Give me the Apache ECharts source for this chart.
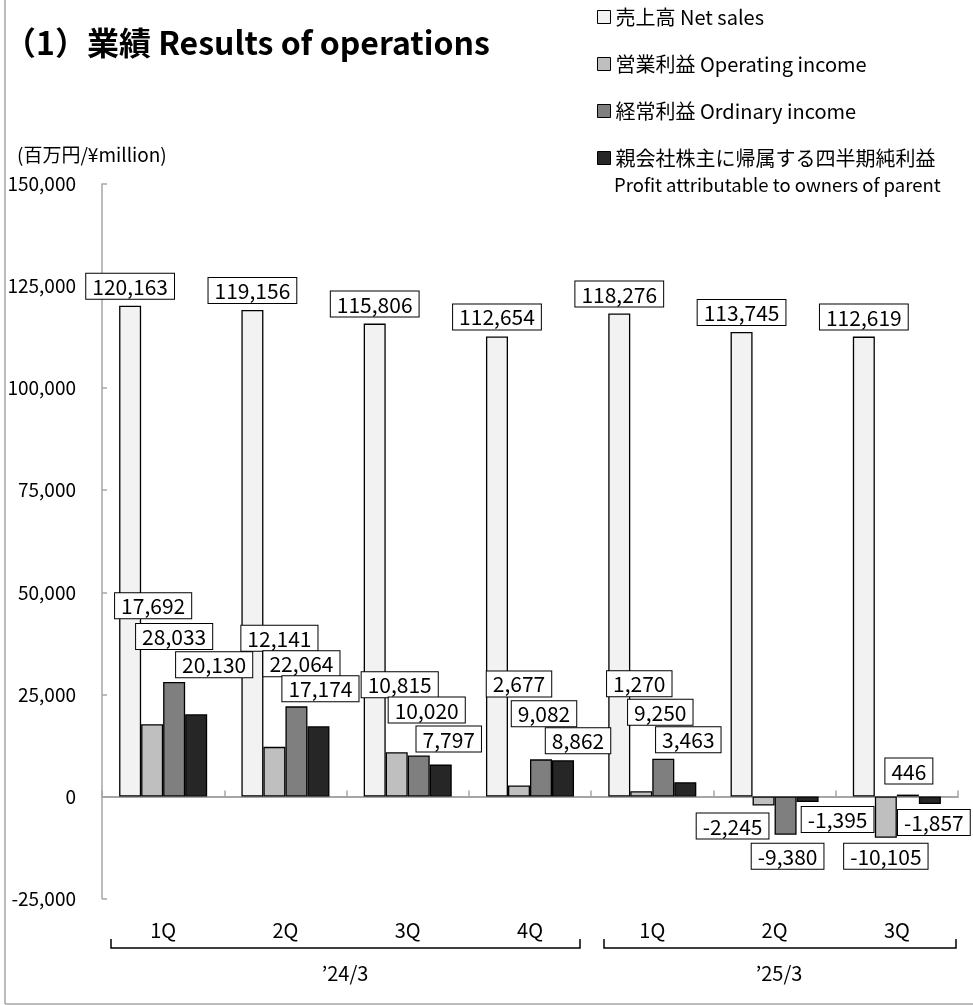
<!DOCTYPE html>
<html>
<head>
<meta charset="utf-8">
<script src="https://cdn.jsdelivr.net/npm/echarts@6/dist/echarts.min.js"></script>
<style>
  html, body { margin: 0; padding: 0; background: #fff; }
  #chart { width: 973px; height: 1005px; }
</style>
</head>
<body>
<div id="chart"></div>
<script>
// 四半期 / quarters
const quarters = ['1Q', '2Q', '3Q', '4Q', '1Q', '2Q', '3Q'];
const fiscalYears = ['\u201924/3', '\u201925/3'];
const seriesNames = ['売上高 Net sales', '営業利益 Operating income', '経常利益 Ordinary income', '親会社株主に帰属する四半期純利益'];

const netSales = [120163, 119156, 115806, 112654, 118276, 113745, 112619];
const operatingIncome = [17692, 12141, 10815, 2677, 1270, -2245, -10105];
const ordinaryIncome = [28033, 22064, 10020, 9082, 9250, -9380, 446];
const profitParent = [20130, 17174, 7797, 8862, 3463, -1395, -1857];

// label shifts [dx, dy] (labels were placed by hand in the original)
const opLabelShift = [[1, -101], [5, -91], [3, -50], [0, -84], [-2, -90], [-31, 3], [0, 1]];
const ordLabelShift = [[0, -28], [5, -25], [8, -28], [3, -28], [-3, -29], [2, 4], [1, -6]];
const netLabelShift = [[18, -32], [2, -20], [8, -8], [15, -2], [3, -25], [30, 0], [4, 1]];

const FONT = "'Noto Sans CJK JP', 'Noto Sans', sans-serif";
const colors = ['#f2f2f2', '#bfbfbf', '#7f7f7f', '#262626'];
const axisGray = '#a6a6a6';

const labelBox = {
  show: true,
  fontFamily: FONT,
  fontSize: 21,
  lineHeight: 20,
  color: '#000',
  backgroundColor: '#fff',
  borderColor: '#000',
  borderWidth: 1,
  padding: [3, 6, 2, 6],
  formatter: p => p.value.toLocaleString('en-US')
};

function withLabels(values, shifts) {
  return values.map((v, i) => ({
    value: v,
    label: { position: v >= 0 ? 'top' : 'bottom', distance: 5, offset: shifts[i] }
  }));
}

function barSeries(name, data, idx, label) {
  return {
    name: name,
    type: 'bar',
    xAxisIndex: 0,
    data: data,
    barGap: '0%',
    barCategoryGap: '28%',
    itemStyle: { color: colors[idx], borderColor: '#000', borderWidth: 1.3 },
    label: Object.assign({}, labelBox, label || {}),
    emphasis: { disabled: true }
  };
}

const chart = echarts.init(document.getElementById('chart'));

chart.setOption({
  animation: false,
  textStyle: { fontFamily: FONT },
  grid: { left: 102, right: 15, top: 184, bottom: 106.5, containLabel: false },
  legend: {
    orient: 'vertical',
    left: 597,
    top: 5,
    padding: 0,
    itemGap: 23,
    itemWidth: 13,
    itemHeight: 13,
    icon: 'rect',
    selectedMode: false,
    itemStyle: { borderColor: '#000', borderWidth: 1 },
    textStyle: { fontFamily: FONT, fontSize: 20, lineHeight: 24, color: '#000' },
    data: seriesNames
  },
  xAxis: [
    {
      type: 'category',
      data: quarters,
      position: 'bottom',
      axisLine: { onZero: true, lineStyle: { color: axisGray, width: 2 } },
      axisTick: { show: true, inside: true, length: 6, lineStyle: { color: axisGray, width: 1.5 } },
      axisLabel: { show: false }
    },
    {
      type: 'category',
      data: quarters,
      position: 'bottom',
      axisLine: { show: false, onZero: false },
      axisTick: { show: false },
      axisLabel: { show: true, margin: 22, fontSize: 20, color: '#000', fontFamily: FONT }
    }
  ],
  yAxis: {
    type: 'value',
    min: -25000,
    max: 150000,
    interval: 25000,
    splitLine: { show: false },
    axisLine: { show: true, lineStyle: { color: axisGray, width: 1.5 } },
    axisTick: { show: true, inside: true, length: 5, lineStyle: { color: axisGray, width: 1.5 } },
    axisLabel: {
      margin: 26,
      fontSize: 19,
      color: '#000',
      fontFamily: FONT,
      formatter: v => v.toLocaleString('en-US')
    }
  },
  series: [
    barSeries(seriesNames[0], netSales, 0, { position: 'top', distance: 7 }),
    barSeries(seriesNames[1], withLabels(operatingIncome, opLabelShift), 1),
    barSeries(seriesNames[2], withLabels(ordinaryIncome, ordLabelShift), 2),
    barSeries(seriesNames[3], withLabels(profitParent, netLabelShift), 3)
  ],
  graphic: [
    // frame
    { type: 'line', shape: { x1: 5, y1: 0, x2: 5, y2: 1004 }, style: { stroke: axisGray, lineWidth: 1.5 } },
    { type: 'line', shape: { x1: 5, y1: 1004, x2: 973, y2: 1004 }, style: { stroke: axisGray, lineWidth: 1.5 } },
    // title
    {
      type: 'text', x: 4, y: 43,
      style: { text: '（1）業績 Results of operations', fontFamily: FONT, fontSize: 32, fontWeight: 'bold', fill: '#000', verticalAlign: 'middle' }
    },
    // unit
    {
      type: 'text', x: 17, y: 155,
      style: { text: '(百万円/¥million)', fontFamily: FONT, fontSize: 19, fill: '#000', verticalAlign: 'middle' }
    },
    // legend second line
    {
      type: 'text', x: 614, y: 185,
      style: { text: 'Profit attributable to owners of parent', fontFamily: FONT, fontSize: 18.5, fill: '#000', verticalAlign: 'middle' }
    },
    // fiscal year brackets
    { type: 'polyline', shape: { points: [[111, 939], [111, 948], [580, 948], [580, 939]] }, style: { stroke: '#000', lineWidth: 1.5, fill: null } },
    { type: 'polyline', shape: { points: [[604, 939], [604, 948], [956, 948], [956, 939]] }, style: { stroke: '#000', lineWidth: 1.5, fill: null } },
    {
      type: 'text', x: 345, y: 973,
      style: { text: fiscalYears[0], fontFamily: FONT, fontSize: 20, fill: '#000', align: 'center', verticalAlign: 'middle' }
    },
    {
      type: 'text', x: 779, y: 973,
      style: { text: fiscalYears[1], fontFamily: FONT, fontSize: 20, fill: '#000', align: 'center', verticalAlign: 'middle' }
    }
  ]
});
</script>
</body>
</html>
